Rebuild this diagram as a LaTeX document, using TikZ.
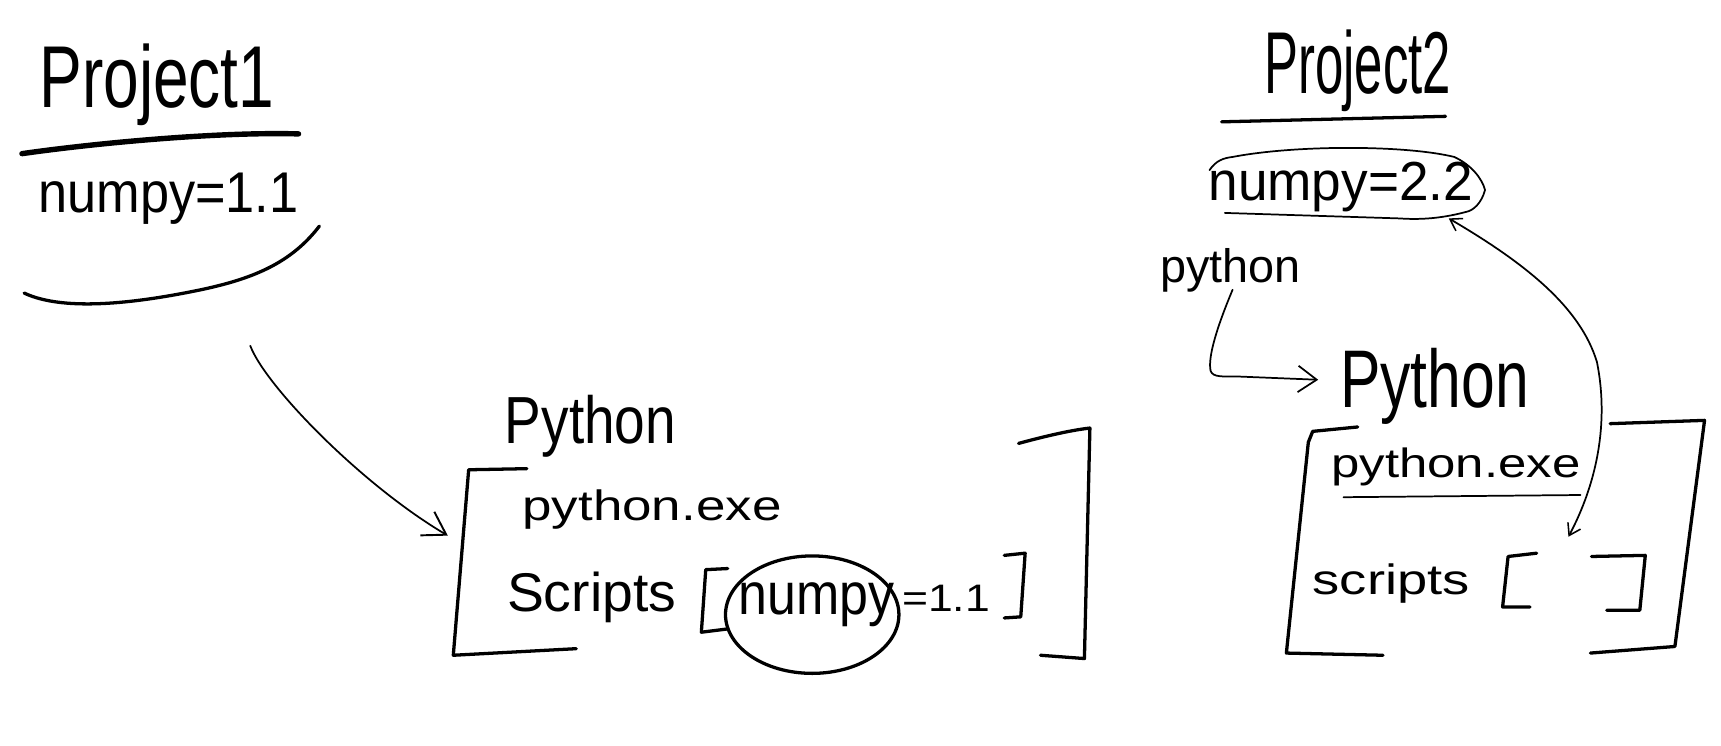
\documentclass[tikz,border=0pt]{standalone}
\usepackage{fontspec}
\setmainfont{Liberation Sans}
\usepackage{graphicx}
\usetikzlibrary{arrows.meta,shapes.geometric}
\newlength\px \setlength\px{0.02cm}
\newcommand\hw[3]{\resizebox{#1\px}{#2\px}{#3}}
\tikzset{
  ink/.style={line width=1.7pt, line cap=round, line join=round},
  heavyink/.style={line width=2.8pt, line cap=round, line join=round},
  thinink/.style={line width=0.9pt, line cap=round, line join=round},
  txt/.style={anchor=base west, inner sep=0pt, outer sep=0pt},
  bigbarb/.style={-{Straight Barb[length=0.4cm, width=0.5cm, line width=1pt]}},
  midbarb/.style={-{Straight Barb[length=0.34cm, width=0.48cm, line width=0.9pt]}},
  tinybarb/.style={{Straight Barb[length=0.2cm, width=0.26cm, line width=0.8pt]}-{Straight Barb[length=0.2cm, width=0.26cm, line width=0.8pt]}}
}
\begin{document}
\begin{tikzpicture}[x=0.02cm, y=-0.02cm]
\useasboundingbox (0,0) rectangle (1568,679);

% ---------- Project 1 ----------
\node[txt] (p1) at (36,98) {\hw{214}{58}{Project1}};
\draw[heavyink] (20,140) .. controls (90,130) and (200,120) .. (272,122);
\node[txt] (np1) at (35,194) {\hw{237}{36}{numpy=1.1}};
\draw[ink] (22,267) .. controls (60,285) and (130,275) .. (183,264)
  .. controls (230,254) and (265,240) .. (291,206);

% arrow to left Python box
\coordinate (a1s) at (228,315);
\coordinate (a1e) at (408,488);
\draw[thinink, bigbarb] (a1s) .. controls (242,352) and (330,442) .. (a1e);

% ---------- Left Python box ----------
\node[txt] (py1) at (460,404) {\hw{156}{44}{Python}};
\draw[ink] (480,427) -- (427,428) -- (413,597) -- (525,591);
\draw[ink] (928,404) .. controls (950,398) and (975,392) .. (993,390)
  -- (988,600) -- (948,597);
\node[txt] (exe1) at (476,474) {\hw{236}{28}{python.exe}};
\node[txt] (scr1) at (462,557) {\hw{154}{36}{Scripts}};
\draw[ink] (663,518) -- (643,519) -- (639,576) -- (663,573);
\node[txt] (nm1) at (673,560) {\hw{142}{29}{numpy}};
\node[ellipse, draw, ink, minimum width=158\px, minimum height=107\px, inner sep=0pt] (circ) at (740,560) {};
\node[txt] (v1) at (822,557) {\hw{80}{24}{=1.1}};
\draw[ink] (915,506) -- (934,504) -- (930,562) -- (915,563);

% ---------- Project 2 ----------
\node[txt] (p2) at (1152,85) {\hw{170}{58}{Project2}};
\draw[ink] (1113,111) -- (1317,106);
\node[txt] (np2) at (1101,183) {\hw{241}{35}{numpy=2.2}};
\draw[thinink] (1102,155) .. controls (1108,146) and (1115,144) .. (1123,143)
  .. controls (1180,132) and (1280,132) .. (1325,143)
  .. controls (1340,150) and (1350,162) .. (1353,173)
  .. controls (1350,185) and (1342,192) .. (1336,193)
  .. controls (1310,200) and (1290,200) .. (1275,199)
  -- (1116,194);

\node[txt] (pys) at (1057,257) {\hw{128}{31}{python}};
\coordinate (a2s) at (1123,264);
\coordinate (a2e) at (1201,346);
\draw[thinink, midbarb] (a2s) .. controls (1110,295) and (1100,325) .. (1103,338)
  .. controls (1105,344) and (1115,343) .. (1127,343) -- (a2e);

% ---------- Right Python box ----------
\node[txt] (py2) at (1221,371) {\hw{172}{54}{Python}};
\draw[ink] (1237,389) -- (1196,393) -- (1192,403) -- (1172,595) -- (1260,597);
\draw[ink] (1467,386) -- (1553,383) -- (1526,589) -- (1449,595);
\node[txt] (exe2) at (1213,435) {\hw{227}{27}{python.exe}};
\draw[thinink] (1224,453) -- (1440,451);
\node[txt] (scr2) at (1196,542) {\hw{143}{28}{scripts}};
\draw[ink] (1400,504) -- (1374,507) -- (1369,553) -- (1394,553);
\draw[ink] (1450,507) -- (1499,506) -- (1494,556) -- (1464,556);

% double-headed link
\coordinate (c2a) at (1320,199);
\coordinate (c2b) at (1429,489);
\draw[thinink, tinybarb] (c2a) .. controls (1390,240) and (1440,280) .. (1455,330)
  .. controls (1466,385) and (1455,440) .. (c2b);
\end{tikzpicture}
\end{document}
